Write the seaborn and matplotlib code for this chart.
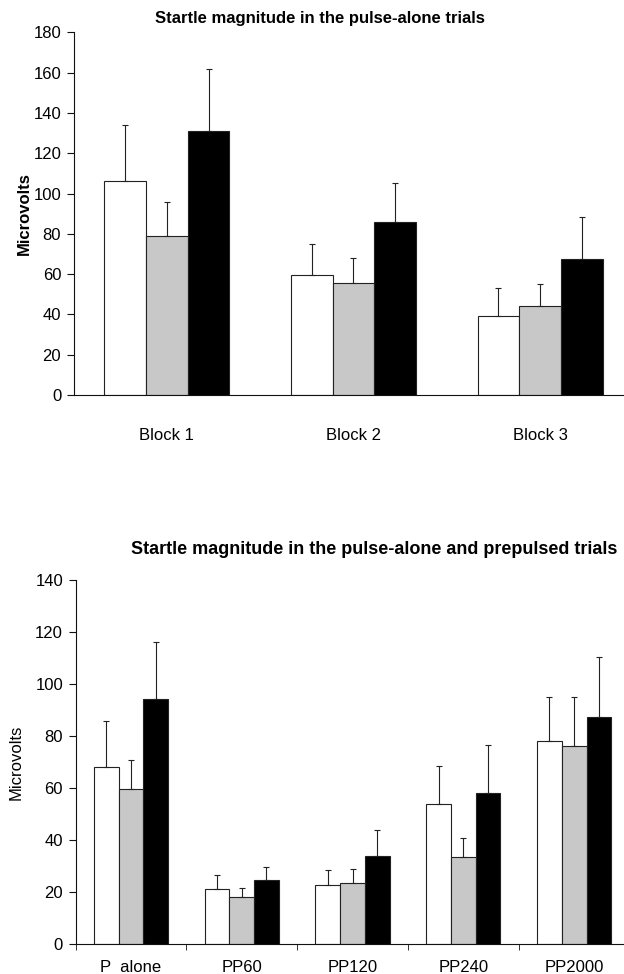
import pandas as pd
import seaborn as sns
import matplotlib.pyplot as plt

# Pulse-alone trials, mean and SEM per block
blocks = ["Block 1", "Block 2", "Block 3"]
groups = ["White", "Grey", "Black"]
block_white = [106.4, 59.7, 39.4]
block_grey = [78.7, 55.8, 44.4]
block_black = [130.9, 85.8, 67.3]
block_white_sem = [27.5, 15.0, 13.8]
block_grey_sem = [17.1, 12.3, 10.6]
block_black_sem = [30.7, 19.4, 20.9]

# Pulse-alone and prepulsed trials
trials = ["P  alone", "PP60", "PP120", "PP240", "PP2000"]
trial_white = [68.1, 21.1, 22.6, 53.7, 78.2]
trial_grey = [59.5, 18.1, 23.4, 33.5, 76.3]
trial_black = [94.2, 24.5, 33.8, 58.2, 87.5]
trial_white_sem = [17.6, 5.3, 5.8, 14.9, 16.8]
trial_grey_sem = [11.3, 3.2, 5.5, 7.1, 18.7]
trial_black_sem = [21.9, 5.2, 9.9, 18.5, 23.1]

colors = ["white", "#c8c8c8", "black"]

sns.set_style("ticks")
plt.rcParams['font.family'] = ['Liberation Sans', 'DejaVu Sans']
plt.rcParams['font.size'] = 12
plt.rcParams['text.color'] = 'black'
plt.rcParams['axes.labelcolor'] = 'black'
plt.rcParams['xtick.color'] = 'black'
plt.rcParams['ytick.color'] = 'black'


def make_frame(cats, vals, sems):
    rows = []
    for g, v, s in zip(groups, vals, sems):
        for c, m, e in zip(cats, v, s):
            rows.append({"cat": c, "group": g, "value": m, "sem": e})
    return pd.DataFrame(rows)


def draw(ax, df, cats):
    sns.barplot(data=df, x="cat", y="value", hue="group", order=cats,
                hue_order=groups, palette=colors, width=0.67,
                edgecolor="#222222", linewidth=0.8, errorbar=None,
                legend=False, ax=ax)
    # one-sided error bars on top of each bar
    for bar in ax.patches:
        x = bar.get_x() + bar.get_width() / 2
        h = bar.get_height()
        ci = int(round(x))
        gi = int(round((bar.get_x() - (ci - 0.335)) / bar.get_width()))
        row = df[(df["cat"] == cats[ci]) & (df["group"] == groups[gi])]
        err = row["sem"].iloc[0]
        ax.errorbar(x, h, yerr=[[0], [err]], fmt="none", ecolor="#222222",
                    elinewidth=0.8, capsize=2, capthick=0.8, zorder=1)
    for s in ["top", "right"]:
        ax.spines[s].set_visible(False)
    ax.spines["left"].set_color("#111111")
    ax.spines["bottom"].set_color("#111111")
    ax.tick_params(axis="y", length=5, pad=4, color="#111111", labelsize=12)
    ax.set_xlabel("")


fig = plt.figure(figsize=(6.24, 9.74), dpi=100)

ax1 = fig.add_axes([0.118, 0.5945, 0.882, 0.3723])
top_df = make_frame(blocks, [block_white, block_grey, block_black],
                    [block_white_sem, block_grey_sem, block_black_sem])
draw(ax1, top_df, blocks)
ax1.set_xlim(-0.5, 2.45)
ax1.set_ylim(0, 180)
ax1.set_yticks(range(0, 181, 20))
ax1.tick_params(axis="x", length=0, pad=24, labelsize=12)
ax1.set_ylabel("Microvolts", fontsize=12, fontweight="bold")
ax1.yaxis.set_label_coords(-0.076, 0.5)
fig.text(0.513, 0.981, "Startle magnitude in the pulse-alone trials",
         ha="center", va="center", fontsize=12, fontweight="bold")

ax2 = fig.add_axes([0.121, 0.0311, 0.879, 0.3731])
bot_df = make_frame(trials, [trial_white, trial_grey, trial_black],
                    [trial_white_sem, trial_grey_sem, trial_black_sem])
draw(ax2, bot_df, trials)
ax2.set_xlim(-0.5, 4.45)
ax2.set_ylim(0, 140)
ax2.set_yticks(range(0, 141, 20))
ax2.set_xticks([-0.5, 0.5, 1.5, 2.5, 3.5], minor=True)
ax2.tick_params(axis="x", which="major", length=0, pad=12, labelsize=12)
ax2.tick_params(axis="x", which="minor", length=4, color="#111111")
ax2.set_ylabel("Microvolts", fontsize=12)
ax2.yaxis.set_label_coords(-0.094, 0.5)
fig.text(0.599, 0.4363, "Startle magnitude in the pulse-alone and prepulsed trials",
         ha="center", va="center", fontsize=13, fontweight="bold")

fig.savefig("out.png", dpi=100)
